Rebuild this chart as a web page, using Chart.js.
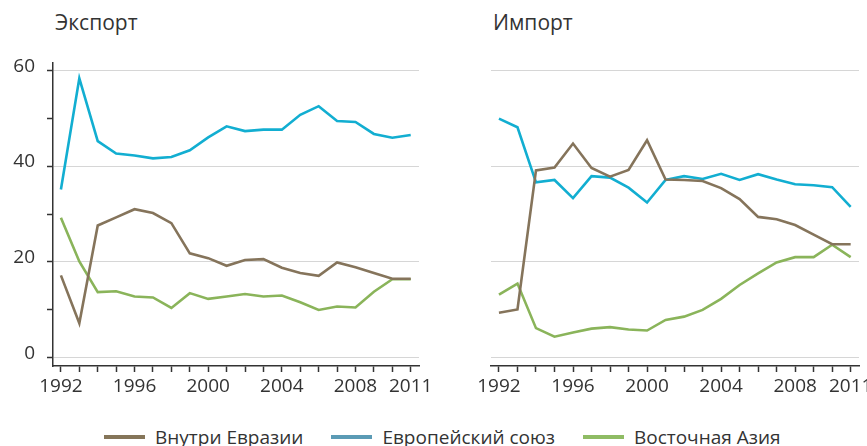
<!DOCTYPE html>
<html lang="ru">
<head>
<meta charset="UTF-8">
<title>Экспорт / Импорт</title>
<script src="https://cdn.jsdelivr.net/npm/chart.js"></script>
<style>
  html, body { margin: 0; padding: 0; background: #fff; overflow: hidden; }
  body { width: 867px; height: 446px; position: relative; font-family: "Open Sans", sans-serif; color: #333; }
  .box { position: absolute; top: 0; height: 400px; }
  .title { position: absolute; top: 8px; font-size: 21px; color: #333; }
  #legend { position: absolute; left: 104px; top: 424px; display: flex; font-size: 19px; color: #333; }
  #legend .item { display: flex; align-items: center; margin-right: 28px; }
  #legend .sw { width: 41px; height: 4px; margin-right: 10px; }
</style>
</head>
<body>
<div class="title" style="left:55px">Экспорт</div>
<div class="title" style="left:493px">Импорт</div>
<div class="box" style="left:0;width:440px"><canvas id="exportChart"></canvas></div>
<div class="box" style="left:440px;width:440px"><canvas id="importChart"></canvas></div>
<div id="legend"></div>

<script>
  const years = [];
  for (let y = 1992; y <= 2011; y++) years.push(y);
  const yearLabels = [1992, 1996, 2000, 2004, 2008, 2011];

  // Экспорт
  const exportEurasia = [17.2, 7.2, 27.6, 29.3, 31.0, 30.2, 28.1, 21.8, 20.8, 19.2, 20.4, 20.6, 18.8, 17.7, 17.1, 19.9, 18.9, 17.7, 16.5, 16.5];
  const exportEU      = [35.1, 58.3, 45.2, 42.6, 42.2, 41.6, 41.9, 43.3, 46.0, 48.3, 47.3, 47.6, 47.6, 50.7, 52.5, 49.4, 49.2, 46.7, 45.9, 46.5];
  const exportAsia    = [29.2, 20.1, 13.7, 13.9, 12.8, 12.6, 10.4, 13.5, 12.3, 12.8, 13.3, 12.8, 13.0, 11.6, 10.0, 10.7, 10.5, 13.8, 16.4, 16.4];

  // Импорт
  const importEurasia = [9.4, 10.1, 39.1, 39.7, 44.7, 39.6, 37.8, 39.2, 45.4, 37.2, 37.1, 36.9, 35.4, 33.1, 29.4, 28.9, 27.7, 25.7, 23.7, 23.7];
  const importEU      = [49.9, 48.1, 36.6, 37.1, 33.3, 37.9, 37.6, 35.5, 32.4, 37.1, 37.9, 37.3, 38.4, 37.1, 38.3, 37.2, 36.2, 36.0, 35.6, 31.5];
  const importAsia    = [13.2, 15.5, 6.2, 4.4, 5.3, 6.1, 6.4, 5.9, 5.7, 7.9, 8.6, 10.0, 12.3, 15.2, 17.6, 19.9, 21.0, 21.0, 23.6, 21.0];

  const seriesNames = ['Внутри Евразии', 'Европейский союз', 'Восточная Азия'];
  const lineColors = ['#85745b', '#12aed1', '#8ab45a'];
  const legendColors = ['#857559', '#5b9bb5', '#8fbc64'];
  const yTicks = [0, 10, 20, 30, 40, 50, 60];

  const axisColor = '#333';
  const gridColor = '#d6d6d6';
  const font = { family: '"Open Sans", sans-serif', size: 19 };

  function makeChart(id, data, showY) {
    const datasets = data.map((vals, i) => ({
      label: seriesNames[i],
      data: vals.map((v, k) => ({ x: years[k], y: v })),
      borderColor: lineColors[i],
      backgroundColor: lineColors[i],
      borderWidth: 2.6,
      pointRadius: 0,
      tension: 0
    }));

    return new Chart(document.getElementById(id), {
      type: 'line',
      data: { datasets: datasets },
      options: {
        responsive: true,
        maintainAspectRatio: false,
        animation: false,
        layout: { padding: { top: 63, right: 21, left: 0, bottom: 0 } },
        plugins: { legend: { display: false }, tooltip: { enabled: false } },
        scales: {
          x: {
            type: 'linear',
            min: 1991.57,
            max: 2011.45,
            afterBuildTicks: (scale) => { scale.ticks = years.map(v => ({ value: v })); },
            afterFit: (scale) => { scale.height = 34; },
            border: { color: axisColor, width: 1.5 },
            grid: { drawOnChartArea: false, tickLength: 6, tickColor: axisColor, tickWidth: 1.5 },
            ticks: {
              autoSkip: false,
              maxRotation: 0,
              padding: 3,
              color: axisColor,
              font: font,
              callback: (v) => yearLabels.includes(v) ? String(v) : ''
            }
          },
          y: {
            min: -1.7,
            max: 61.5,
            afterBuildTicks: (scale) => { scale.ticks = yTicks.map(v => ({ value: v })); },
            afterFit: (scale) => { scale.width = showY ? 53 : 51; },
            border: { display: showY, color: axisColor, width: 1.5 },
            grid: {
              color: (ctx) => ctx.tick && ctx.tick.value % 20 === 0 ? gridColor : 'rgba(0,0,0,0)',
              lineWidth: 1,
              drawTicks: showY,
              tickLength: 6,
              tickColor: axisColor,
              tickWidth: 1.5
            },
            ticks: {
              display: showY,
              padding: 12,
              labelOffset: -4,
              color: axisColor,
              font: font,
              callback: (v) => v % 20 === 0 ? String(v) : ''
            }
          }
        }
      }
    });
  }

  makeChart('exportChart', [exportEurasia, exportEU, exportAsia], true);
  makeChart('importChart', [importEurasia, importEU, importAsia], false);

  // легенда
  const legend = document.getElementById('legend');
  seriesNames.forEach((name, i) => {
    const item = document.createElement('div');
    item.className = 'item';
    item.innerHTML = `<span class="sw" style="background:${legendColors[i]}"></span><span>${name}</span>`;
    legend.appendChild(item);
  });
</script>
</body>
</html>
